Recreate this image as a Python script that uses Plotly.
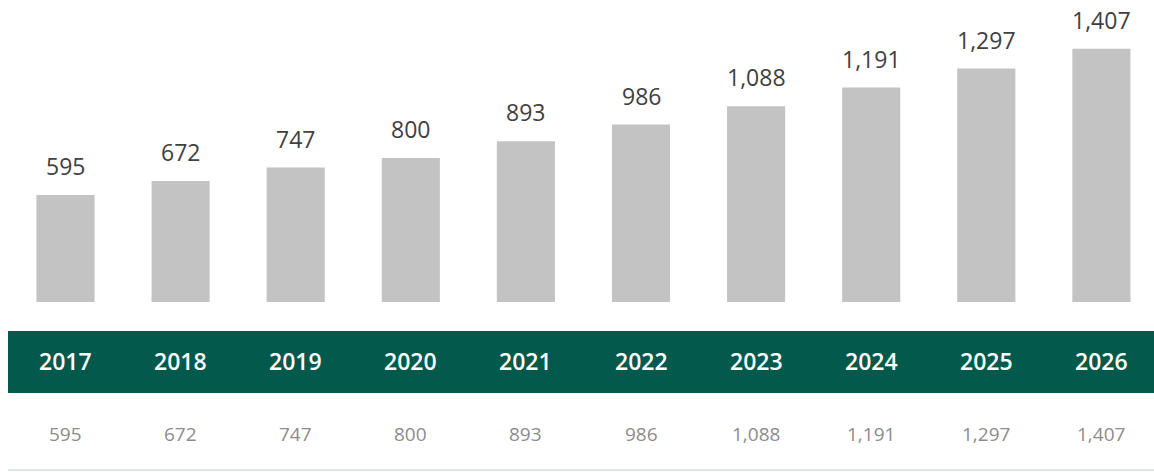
import plotly.graph_objects as go

# Annual values, 2017-2026
years = [2017, 2018, 2019, 2020, 2021, 2022, 2023, 2024, 2025, 2026]
values = [595, 672, 747, 800, 893, 986, 1088, 1191, 1297, 1407]
year_labels = [str(y) for y in years]
value_labels = [f"{v:,}" for v in values]

W, H = 1154, 472
FONT = "Open Sans"

BAR_COLOR = "#c3c3c3"
BAND_COLOR = "#03594c"
LABEL_COLOR = "#404040"
TABLE_TEXT = "#8c8c8c"

fig = go.Figure()
fig.add_trace(go.Bar(
    x=years,
    y=values,
    width=0.505,
    marker=dict(color=BAR_COLOR, line=dict(width=0)),
    hoverinfo="skip",
))

annotations = []
# value labels above the bars
for y, v, t in zip(years, values, value_labels):
    annotations.append(dict(
        x=y, y=v, xref="x", yref="y", text=t, showarrow=False,
        yanchor="bottom", yshift=11,
        font=dict(family=FONT, size=23, color=LABEL_COLOR, weight=500),
    ))
# year row inside the green band
for y, t in zip(years, year_labels):
    annotations.append(dict(
        x=y, y=1 - 361 / H, xref="x", yref="paper", text=t,
        showarrow=False, yanchor="middle",
        font=dict(family=FONT, size=23, color="#ffffff", weight=600),
    ))
# value row under the band
for y, t in zip(years, value_labels):
    annotations.append(dict(
        x=y, y=1 - 434 / H, xref="x", yref="paper", text=t,
        showarrow=False, yanchor="middle",
        font=dict(family=FONT, size=19, color=TABLE_TEXT),
    ))

shapes = [
    # green header band
    dict(type="rect", xref="paper", yref="paper",
         x0=8 / W, x1=1, y0=1 - 393 / H, y1=1 - 331 / H,
         fillcolor=BAND_COLOR, line=dict(width=0), layer="below"),
    # bottom rule
    dict(type="line", xref="paper", yref="paper",
         x0=8 / W, x1=1, y0=1 - 470 / H, y1=1 - 470 / H,
         line=dict(color="#cfdcd8", width=1.5)),
]

# x: bar centres 115.1 px apart, first at 65.5 px
pitch = 115.1
x0 = years[0] - 65.5 / pitch
x1 = years[0] + (W - 65.5) / pitch
# y: baseline at 302 px from top, 0.18 px per unit
scale = 0.18
y_top = 302 / scale
y_bot = -(H - 302) / scale

fig.update_layout(
    width=W, height=H,
    margin=dict(l=0, r=0, t=0, b=0),
    paper_bgcolor="white", plot_bgcolor="white",
    showlegend=False,
    xaxis=dict(range=[x0, x1], visible=False, fixedrange=True),
    yaxis=dict(range=[y_bot, y_top], visible=False, fixedrange=True),
    annotations=annotations,
    shapes=shapes,
    font=dict(family=FONT),
)

fig.write_html("out.html")
